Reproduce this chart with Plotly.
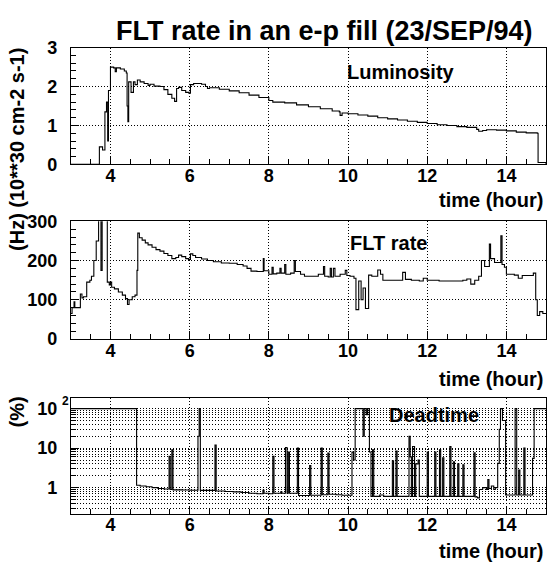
import plotly.graph_objects as go

# ---------------- data ----------------
lumi_t = [3.00, 3.72, 3.80, 3.86, 3.90, 3.93, 3.95, 4.00, 4.08, 4.12, 4.15, 4.25, 4.35, 4.40,
          4.42, 4.44, 4.46, 4.52, 4.58, 4.62, 4.68, 4.75, 4.85, 4.95, 5.00, 5.10, 5.25, 5.35,
          5.45, 5.55, 5.62, 5.67, 5.72, 5.80, 5.90, 5.98, 6.02, 6.10, 6.30, 6.40, 6.45, 6.50,
          6.75, 7.00, 7.25, 7.50, 7.75, 8.00, 8.10, 8.40, 8.70, 9.00, 9.30, 9.60, 9.78, 9.80,
          9.85, 10.00, 10.25, 10.50, 10.75, 11.00, 11.25, 11.50, 11.75, 12.00, 12.25, 12.50,
          12.75, 13.00, 13.25, 13.30, 13.40, 13.50, 13.75, 14.00, 14.25, 14.50, 14.78, 14.80, 15.00]
lumi_v = [0.00, 0.45, 0.37, 1.35, 1.60, 0.60, 1.90, 2.50, 2.48, 2.38, 2.48, 2.45, 2.40, 2.35,
          1.50, 1.10, 2.12, 1.85, 2.12, 2.05, 2.17, 2.12, 2.08, 2.03, 2.06, 2.01, 2.00, 1.92,
          1.80, 1.70, 1.62, 1.95, 1.98, 1.90, 1.85, 1.83, 2.05, 2.08, 2.06, 2.00, 1.95, 1.97,
          1.93, 1.89, 1.84, 1.78, 1.72, 1.64, 1.60, 1.58, 1.53, 1.48, 1.43, 1.37, 1.35, 1.26,
          1.32, 1.30, 1.27, 1.24, 1.20, 1.17, 1.14, 1.11, 1.08, 1.05, 1.02, 1.00,
          0.97, 0.95, 0.90, 0.85, 0.87, 0.89, 0.88, 0.86, 0.83, 0.81, 0.80, 0.05, 0.00]

flt_t = [3.00, 3.03, 3.08, 3.10, 3.24, 3.28, 3.32, 3.40, 3.48, 3.52, 3.58, 3.64, 3.70, 3.76,
         3.79, 3.92, 3.97, 4.00, 4.03, 4.10, 4.20, 4.30, 4.38, 4.43, 4.47, 4.55, 4.62, 4.67,
         4.69, 4.73, 4.80, 4.88, 4.95, 5.05, 5.15, 5.25, 5.35, 5.45, 5.55, 5.65, 5.72, 5.80,
         5.90, 5.97, 6.02, 6.08, 6.15, 6.30, 6.45, 6.60, 6.80, 7.00, 7.20, 7.35, 7.45, 7.55,
         7.70, 7.86, 7.88, 8.00, 8.08, 8.11, 8.20, 8.28, 8.31, 8.40, 8.43, 8.55, 8.64, 8.67,
         8.80, 8.90, 9.10, 9.25, 9.38, 9.41, 9.50, 9.55, 9.58, 9.63, 9.67, 9.80, 9.93, 9.97,
         10.05, 10.15, 10.20, 10.27, 10.33, 10.38, 10.44, 10.52, 10.60, 10.75, 10.82, 10.88,
         11.10, 11.38, 11.45, 11.60, 11.80, 11.90, 12.00, 12.30, 12.60, 12.90, 13.00, 13.10,
         13.20, 13.30, 13.37, 13.45, 13.57, 13.60, 13.70, 13.86, 13.89, 13.95, 14.00, 14.20,
         14.30, 14.40, 14.55, 14.68, 14.74, 14.78, 14.84, 14.92, 15.00]
flt_v = [65, 80, 95, 80, 115, 105, 108, 145, 150, 160, 200, 250, 320, 175,
         320, 145, 138, 145, 132, 128, 120, 112, 103, 88, 100, 108, 112, 175,
         270, 258, 252, 245, 240, 234, 228, 224, 218, 213, 205, 208, 214, 210,
         205, 203, 217, 213, 208, 204, 200, 197, 194, 193, 190, 186, 180, 173,
         172, 205, 174, 165, 183, 166, 168, 180, 168, 190, 165, 168, 200, 172,
         165, 160, 160, 165, 185, 160, 158, 180, 158, 180, 160, 165, 175, 162,
         160, 155, 75, 148, 100, 130, 78, 163, 160, 176, 165, 150,
         150, 170, 152, 150, 148, 155, 150, 148, 148, 150, 153, 140,
         150, 160, 200, 185, 242, 205, 195, 263, 190, 183, 165, 163,
         155, 162, 162, 168, 100, 60, 70, 65, 65]

dead_t = [3.00, 4.66, 4.75, 4.90, 5.05, 5.20, 5.35, 5.48, 5.51, 5.55, 5.58, 5.80, 6.00, 6.21,
          6.24, 6.27, 6.50, 6.64, 6.67, 6.90, 7.10, 7.30, 7.50, 7.70, 7.85, 7.88, 8.00, 8.10,
          8.13, 8.30, 8.33, 8.42, 8.46, 8.49, 8.52, 8.72, 8.75, 9.03, 9.06, 9.32, 9.35, 9.49,
          9.52, 9.70, 9.85, 10.10, 10.14, 10.18, 10.38, 10.41, 10.46, 10.49, 10.54, 10.58,
          10.62, 10.65, 10.80, 10.90, 11.12, 11.15, 11.21, 11.24, 11.54, 11.57, 11.60, 11.63,
          11.68, 11.71, 11.77, 11.80, 11.84, 12.00, 12.03, 12.19, 12.22, 12.31, 12.34, 12.39,
          12.42, 12.57, 12.60, 12.66, 12.69, 12.77, 12.80, 12.90, 12.93, 13.18, 13.21, 13.27,
          13.32, 13.40, 13.50, 13.53, 13.56, 13.62, 13.68, 13.72, 13.78, 13.82, 13.85, 13.90,
          13.98, 14.22, 14.26, 14.31, 14.34, 14.44, 14.47, 14.66, 14.70, 15.00]
dead_v = [100, 1.15, 1.10, 1.05, 1.00, 0.95, 0.92, 6.2, 0.90, 9.0, 0.88, 0.87, 0.86, 20,
          100, 0.85, 0.85, 12, 0.82, 0.80, 0.78, 0.75, 0.72, 0.70, 0.85, 0.72, 0.70, 6.2,
          0.72, 0.78, 0.72, 10.4, 0.72, 8.0, 0.72, 10, 0.63, 3.6, 0.64, 10, 0.66, 7.5,
          0.68, 0.66, 0.64, 7.9, 5.0, 100, 20, 100, 70, 100, 8.0, 0.60,
          9.0, 0.60, 0.65, 0.60, 4.8, 0.60, 8.4, 0.60, 20, 6.0, 0.60, 11,
          0.60, 4.0, 5.0, 0.60, 0.60, 8.0, 0.60, 8.0, 0.60, 9.0, 0.60, 5.7,
          0.60, 11, 0.60, 4.5, 0.60, 4.0, 0.60, 3.8, 0.60, 7.6, 0.58, 0.55,
          0.90, 1.00, 0.90, 1.6, 0.95, 1.10, 0.90, 1.00, 4.1, 30, 100, 50,
          0.65, 100, 0.65, 2.8, 0.65, 10, 0.65, 5.5, 100, 100]

x_ticks = [4, 6, 8, 10, 12, 14]
lumi_ticks = [0, 1, 2, 3]
flt_ticks = [0, 100, 200, 300]
dead_ticks = [1, 10, 100]
dead_ticktext = ["1", "10", "10"]
dead_minor = [0.3, 0.4, 0.5, 0.6, 0.7, 0.8, 0.9, 2, 3, 4, 5, 6, 7, 8, 9,
              20, 30, 40, 50, 60, 70, 80, 90]

title_text = "FLT rate in an e-p fill (23/SEP/94)"
panel_labels = ["Luminosity", "FLT rate", "Deadtime"]
y_titles = ["(10**30 cm-2 s-1)", "(Hz)", "(%)"]
x_title = "time (hour)"

# ---------------- layout helpers ----------------
W, H = 547, 571
FONT = "Liberation Sans, Arial, Helvetica, sans-serif"


def fx(p):
    return p / W


def fy(p):
    return 1 - p / H


x_dom = [fx(71), 1.0]
y_doms = [[fy(160), fy(39)], [fy(341), fy(219)], [fy(522), fy(402)]]

DASH = "1px,2px"
tickfont = dict(family=FONT, size=18, color="black", weight="bold")

fig = go.Figure()
line = dict(color="black", width=1.1, shape="hv")
fig.add_trace(go.Scatter(x=lumi_t, y=lumi_v, mode="lines", line=line, xaxis="x", yaxis="y"))
fig.add_trace(go.Scatter(x=flt_t, y=flt_v, mode="lines", line=line, xaxis="x2", yaxis="y2"))
fig.add_trace(go.Scatter(x=dead_t, y=dead_v, mode="lines", line=line, xaxis="x3", yaxis="y3"))


def xaxis(anchor):
    return dict(domain=x_dom, anchor=anchor, range=[3, 15], tickvals=x_ticks,
                showline=True, linecolor="black", linewidth=1, mirror=True,
                ticks="inside", ticklen=8, tickcolor="black", tickwidth=1,
                showgrid=True, gridcolor="black", griddash=DASH, gridwidth=1,
                zeroline=False, tickfont=tickfont, ticklabelstandoff=-5,
                minor=dict(dtick=0.5, tick0=0, ticks="inside", ticklen=5,
                           tickcolor="black", showgrid=False))


def yaxis(anchor, dom, **kw):
    d = dict(domain=dom, anchor=anchor,
             showline=True, linecolor="black", linewidth=1, mirror=True,
             ticks="inside", ticklen=8, tickcolor="black", tickwidth=1,
             showgrid=True, gridcolor="black", griddash=DASH, gridwidth=1,
             zeroline=False, tickfont=tickfont, ticklabelstandoff=9)
    d.update(kw)
    return d


fig.update_layout(
    width=W, height=H, margin=dict(l=0, r=0, t=0, b=0),
    paper_bgcolor="white", plot_bgcolor="white", showlegend=False,
    xaxis=xaxis("y"), xaxis2=xaxis("y2"), xaxis3=xaxis("y3"),
    yaxis=yaxis("x", y_doms[0], range=[0, 3], tickvals=lumi_ticks,
                minor=dict(dtick=0.2, tick0=0, ticks="inside", ticklen=5, tickcolor="black", showgrid=False)),
    yaxis2=yaxis("x2", y_doms[1], range=[0, 300], tickvals=flt_ticks,
                 minor=dict(dtick=20, tick0=0, ticks="inside", ticklen=5, tickcolor="black", showgrid=False)),
    yaxis3=yaxis("x3", y_doms[2], type="log", range=[-0.66, 2.27], tickvals=dead_ticks,
                 ticktext=dead_ticktext,
                 minor=dict(tickvals=dead_minor, ticks="inside", ticklen=5, tickcolor="black",
                            showgrid=True, gridcolor="black", griddash=DASH, gridwidth=1)),
)

ann = []
bold = lambda s: dict(family=FONT, size=s, color="black", weight="bold")
ann.append(dict(text=title_text, x=fx(325), y=fy(22), xref="paper", yref="paper",
                showarrow=False, font=bold(27), xanchor="center", yanchor="middle"))
for lbl, (cx, cy) in zip(panel_labels, [(402, 64), (389, 241), (435, 420)]):
    ann.append(dict(text=lbl, x=fx(cx), y=fy(cy), xref="paper", yref="paper",
                    showarrow=False, font=bold(20), xanchor="center", yanchor="middle"))
for cy in [197, 382, 561]:
    ann.append(dict(text=x_title, x=fx(546), y=fy(cy), xref="paper", yref="paper",
                    showarrow=False, font=bold(20), xanchor="right", yanchor="middle"))
for t, cy in zip(y_titles, [122, 230, 416]):
    ann.append(dict(text=t, x=fx(17), y=fy(cy), xref="paper", yref="paper", textangle=-90,
                    showarrow=False, font=bold(20), xanchor="center", yanchor="middle"))
ann.append(dict(text="2", x=fx(66), y=fy(405), xref="paper", yref="paper",
                showarrow=False, font=bold(12), xanchor="center", yanchor="middle"))
fig.update_layout(annotations=ann)

fig.write_html("out.html", config={"displayModeBar": False},
               post_script="document.body.style.margin='0';document.body.style.overflow='hidden';")
